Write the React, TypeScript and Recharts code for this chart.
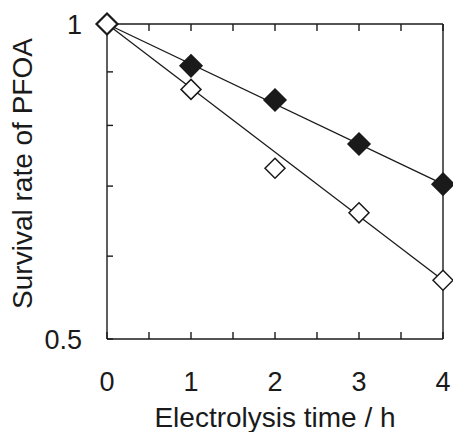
import { LineChart, Line, XAxis, YAxis, Label } from 'recharts';

const time = [0, 1, 2, 3, 4];
const filledRate = [1, 0.912, 0.846, 0.768, 0.703];
const openRate = [1, 0.866, 0.728, 0.66, 0.569];

// end points of the two fitted lines
const fitTime = [0, 4];
const filledFit = [1, 0.703];
const openFit = [1, 0.569];

const xTicks = [0, 0.5, 1, 1.5, 2, 2.5, 3, 3.5, 4];
const yTicks = [0.5, 0.6, 0.7, 0.8, 0.9, 1];
const yLabels = [0.5, 1];

const rows = time.map((t, i) => {
  const k = fitTime.indexOf(t);
  return {
    t,
    filled: filledRate[i],
    open: openRate[i],
    filledFit: k >= 0 ? filledFit[k] : null,
    openFit: k >= 0 ? openFit[k] : null,
  };
});

const font = "'Liberation Sans', Arial, sans-serif";
const ink = '#1a1a1a';

const diamond = (r: number, fill: string) => (p: any) => {
  const { cx, cy, index } = p;
  if (cx == null || cy == null) return <g key={index} />;
  return (
    <path
      key={index}
      d={`M${cx},${cy - r}L${cx + r},${cy}L${cx},${cy + r}L${cx - r},${cy}Z`}
      fill={fill}
      stroke={ink}
      strokeWidth={1.5}
    />
  );
};

const YTitle = (props: any) => {
  const { viewBox } = props;
  const x = viewBox.x + 22;
  const y = viewBox.y + viewBox.height / 2 - 8;
  return (
    <text
      x={x}
      y={y}
      transform={`rotate(-90, ${x}, ${y})`}
      textAnchor="middle"
      dominantBaseline="central"
      fontSize={28}
      fontFamily={font}
      fill={ink}
    >
      Survival rate of PFOA
    </text>
  );
};

export default function App() {
  const tickStyle = { fontSize: 27, fontFamily: font, fill: ink };
  return (
    <div style={{ position: 'absolute', left: 0, top: 0, background: '#fff' }}>
      <LineChart
        width={453}
        height={432}
        data={rows}
        margin={{ top: 23, right: 0, left: 0, bottom: 0 }}
      >
        <XAxis
          dataKey="t"
          type="number"
          domain={[0, 4]}
          ticks={xTicks}
          tickFormatter={(v: number) => (Number.isInteger(v) ? String(v) : '')}
          tickSize={-7}
          tickMargin={40}
          height={93}
          stroke={ink}
          strokeWidth={1.4}
          tick={tickStyle}
        >
          <Label
            value="Electrolysis time / h"
            position="insideBottom"
            offset={5}
            style={{ fontSize: 28, fontFamily: font, fill: ink }}
          />
        </XAxis>
        <XAxis
          xAxisId="top"
          orientation="top"
          type="number"
          domain={[0, 4]}
          ticks={xTicks}
          tickFormatter={() => ''}
          tickSize={-7}
          height={1}
          stroke={ink}
          strokeWidth={1.4}
        />
        <YAxis
          scale="log"
          type="number"
          domain={[0.5, 1]}
          ticks={yTicks}
          tickFormatter={(v: number) => (yLabels.includes(v) ? String(v) : '')}
          tickSize={-6}
          tickMargin={31}
          width={107}
          stroke={ink}
          strokeWidth={1.4}
          tick={tickStyle}
        >
          <Label content={YTitle} />
        </YAxis>
        <YAxis
          yAxisId="right"
          orientation="right"
          scale="log"
          type="number"
          domain={[0.5, 1]}
          ticks={yTicks}
          tickFormatter={() => ''}
          tickSize={-6}
          width={10}
          stroke={ink}
          strokeWidth={1.4}
        />
        <Line
          dataKey="filledFit"
          stroke={ink}
          strokeWidth={1.3}
          dot={false}
          connectNulls
          isAnimationActive={false}
        />
        <Line
          dataKey="openFit"
          stroke={ink}
          strokeWidth={1.3}
          dot={false}
          connectNulls
          isAnimationActive={false}
        />
        <Line
          dataKey="filled"
          stroke="transparent"
          strokeWidth={0}
          dot={diamond(11, ink)}
          isAnimationActive={false}
        />
        <Line
          dataKey="open"
          stroke="transparent"
          strokeWidth={0}
          dot={diamond(10, '#fff')}
          isAnimationActive={false}
        />
      </LineChart>
    </div>
  );
}
